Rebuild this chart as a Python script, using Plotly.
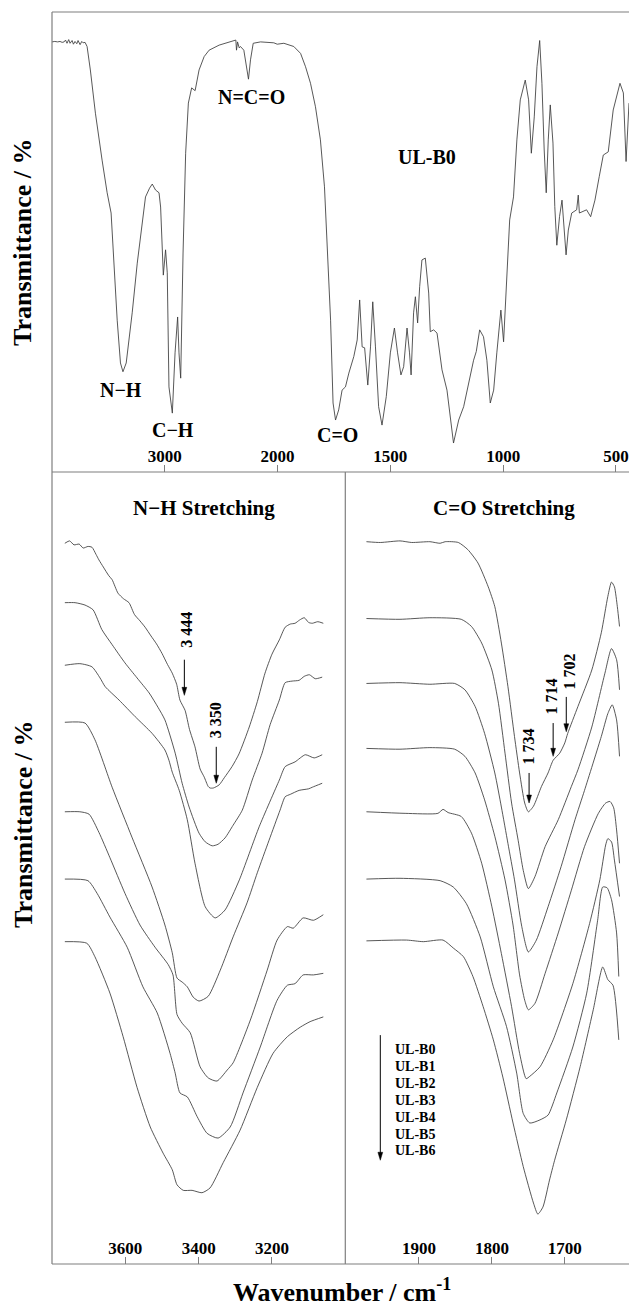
import plotly.graph_objects as go

# ---------------- UL-B0 survey spectrum, 4000-440 cm-1 ----------------
FULL_WN = [4000, 3975, 3950, 3929, 3910, 3893, 3880, 3867, 3852, 3840, 3822, 3810, 3796, 3780,
           3769, 3751, 3736, 3724, 3707, 3689, 3660, 3615, 3556, 3511, 3476, 3451, 3422, 3393,
           3371, 3342, 3289, 3244, 3206, 3171, 3135, 3111, 3082, 3051, 3037, 3022, 3013, 2993,
           2978, 2963, 2933, 2909, 2886, 2874, 2859, 2838, 2815, 2791, 2762, 2731, 2696, 2651,
           2607, 2518, 2400, 2370, 2364, 2355, 2340, 2329, 2299, 2275, 2258, 2240, 2216, 2151,
           2033, 2003, 1972, 1928, 1898, 1876, 1854, 1832, 1810, 1792, 1777, 1765, 1754, 1743,
           1729, 1714, 1699, 1684, 1662, 1647, 1636, 1625, 1614, 1600, 1588, 1578, 1566, 1552,
           1537, 1518, 1500, 1482, 1468, 1453, 1441, 1426, 1415, 1408, 1397, 1389, 1379, 1370,
           1360, 1345, 1330, 1323, 1308, 1293, 1271, 1249, 1220, 1197, 1175, 1153, 1131, 1119,
           1104, 1087, 1072, 1057, 1042, 1028, 1010, 998, 983, 971, 954, 939, 924, 902, 887, 875,
           862, 850, 838, 828, 818, 809, 800, 791, 779, 771, 762, 750, 739, 730, 721, 711, 696,
           674, 667, 662, 630, 612, 593, 574, 556, 534, 512, 482, 467, 455, 445, 442]
FULL_T = [93.5, 93.6, 93.5, 93.6, 93.4, 93.5, 93.9, 93.2, 94.0, 93.2, 93.8, 93.0, 93.6, 93.1,
          93.8, 92.9, 93.6, 93.3, 93.4, 92.5, 87.4, 78.0, 67.8, 60.7, 56.3, 44.6, 33.0, 23.7,
          21.8, 23.7, 34.6, 45.4, 53.3, 59.8, 61.7, 62.6, 61.3, 60.7, 57.6, 47.6, 42.8, 48.3,
          43.3, 18.5, 12.8, 25.9, 33.7, 25.9, 20.4, 47.6, 69.3, 80.2, 83.5, 82.9, 87.4, 90.3,
          91.7, 92.8, 93.6, 93.9, 91.7, 93.5, 92.2, 92.5, 91.7, 87.4, 85.4, 89.6, 93.2, 93.5,
          93.3, 93.0, 93.2, 92.5, 91.0, 88.1, 84.5, 79.4, 72.2, 62.0, 47.6, 33.0, 15.0, 11.3,
          13.5, 17.8, 18.5, 21.5, 25.1, 28.7, 37.4, 27.2, 27.0, 18.9, 27.2, 37.0, 27.2, 14.2,
          10.2, 16.4, 25.9, 31.3, 25.9, 21.1, 22.9, 31.3, 25.9, 21.1, 34.6, 38.1, 32.4, 40.3,
          46.1, 46.5, 38.9, 30.5, 30.9, 30.2, 22.2, 17.8, 6.3, 11.3, 14.2, 19.3, 24.3, 26.2,
          30.9, 29.4, 24.3, 15.0, 17.8, 25.9, 35.2, 28.3, 43.3, 54.8, 59.8, 72.2, 80.9, 85.2, 80.9, 69.3,
          77.2, 88.1, 93.8, 84.5, 70.0, 60.7, 72.2, 79.8, 71.5, 57.7, 49.3, 55.5, 59.1, 53.3, 47.2, 52.6, 56.3,
          57.0, 60.2, 56.3, 57.0, 55.5, 59.1, 64.2, 68.9, 69.6, 78.7, 84.5, 82.4, 67.5, 79.4, 80.2]

# ---------------- N-H stretching region (stacked, offset traces) ----------------
NH_B0_WN = [3765, 3752, 3740, 3726, 3715, 3702, 3691, 3680, 3672, 3660, 3645, 3636, 3620, 3605, 3590,
            3575, 3560, 3546, 3530, 3515, 3500, 3485, 3472, 3460, 3451, 3437, 3425, 3410, 3396, 3385,
            3374, 3369, 3360, 3344, 3330, 3309, 3290, 3262, 3240, 3219, 3200, 3180, 3164, 3150, 3137,
            3125, 3112, 3100, 3090, 3075, 3060]
NH_B0_T = [91.0, 91.3, 90.8, 90.9, 90.4, 90.6, 90.5, 89.6, 88.9, 88.0, 86.9, 86.4, 84.7, 84.0, 83.5,
           82.0, 81.2, 80.4, 79.3, 78.3, 77.1, 75.7, 74.6, 73.2, 71.2, 69.9, 67.5, 65.3, 62.5, 61.5,
           60.3, 60.1, 60.1, 60.5, 61.4, 62.8, 64.4, 67.8, 71.0, 74.6, 77.0, 78.8, 80.4, 80.8, 80.9,
           81.3, 81.6, 81.0, 80.9, 81.1, 80.9]
NH_B1_WN = [3765, 3737, 3710, 3688, 3664, 3636, 3601, 3568, 3535, 3511, 3492, 3464, 3445, 3426, 3399,
            3382, 3363, 3347, 3328, 3306, 3281, 3254, 3227, 3205, 3180, 3164, 3145, 3126, 3112, 3098,
            3082, 3063]
NH_B1_T = [83.5, 83.5, 83.2, 82.6, 80.1, 78.2, 75.9, 74.0, 72.1, 70.3, 68.7, 64.5, 60.7, 57.7, 54.4,
           53.3, 52.8, 53.0, 53.8, 55.4, 57.3, 61.1, 64.5, 68.1, 71.2, 73.4, 73.6, 73.7, 74.2, 74.4,
           73.9, 74.1]
NH_B2_WN = [3765, 3724, 3691, 3669, 3655, 3617, 3573, 3527, 3492, 3481, 3472, 3453, 3431, 3410, 3382,
            3355, 3328, 3289, 3235, 3180, 3164, 3137, 3109, 3085, 3063]
NH_B2_T = [75.6, 75.8, 75.4, 74.0, 72.9, 71.2, 69.1, 67.0, 64.9, 63.6, 62.1, 59.8, 56.1, 50.6, 45.1,
           43.7, 44.7, 48.5, 55.2, 61.1, 62.8, 63.4, 64.3, 63.9, 64.3]
NH_B3_WN = [3765, 3710, 3683, 3636, 3582, 3527, 3492, 3472, 3459, 3445, 3431, 3415, 3399, 3374, 3341,
            3306, 3268, 3240, 3208, 3178, 3164, 3150, 3126, 3100, 3090, 3063]
NH_B3_T = [68.4, 68.3, 66.2, 60.2, 53.9, 47.6, 42.8, 39.3, 36.1, 35.6, 35.0, 33.7, 33.2, 33.8, 37.1,
           41.3, 45.6, 49.4, 53.5, 57.3, 59.0, 59.3, 59.8, 60.0, 60.2, 60.7]
NH_B4_WN = [3765, 3724, 3699, 3672, 3642, 3601, 3560, 3519, 3483, 3470, 3459, 3445, 3423, 3396, 3374,
            3350, 3322, 3306, 3259, 3213, 3186, 3158, 3142, 3115, 3087, 3060]
NH_B4_T = [57.1, 57.1, 56.8, 54.5, 51.3, 46.8, 42.8, 40.0, 37.8, 36.5, 31.5, 30.4, 29.2, 24.9, 23.5,
           23.1, 24.5, 25.4, 30.8, 37.1, 40.9, 42.6, 42.4, 43.7, 43.4, 44.1]
NH_B5_WN = [3765, 3702, 3677, 3642, 3595, 3552, 3513, 3478, 3464, 3451, 3431, 3404, 3377, 3347, 3314,
            3279, 3232, 3186, 3158, 3137, 3115, 3087, 3060]
NH_B5_T = [48.6, 48.4, 46.8, 43.8, 40.0, 35.0, 31.7, 26.6, 24.1, 21.6, 21.1, 18.6, 16.5, 15.9, 17.3,
           21.6, 27.4, 33.3, 35.2, 35.4, 36.5, 36.5, 36.7]
NH_B6_WN = [3765, 3705, 3683, 3642, 3606, 3568, 3532, 3497, 3472, 3459, 3442, 3418, 3391, 3369, 3333,
            3287, 3240, 3197, 3158, 3123, 3096, 3060]
NH_B6_T = [40.7, 40.5, 38.8, 34.2, 28.7, 22.3, 17.3, 14.0, 11.9, 10.0, 9.3, 9.3, 9.0, 9.6, 12.8,
           16.9, 22.3, 26.6, 28.7, 29.9, 30.6, 31.2]

# ---------------- C=O stretching region (stacked, offset traces) ----------------
CO_B0_WN = [1972, 1953, 1926, 1910, 1885, 1871, 1864, 1846, 1833, 1819, 1805, 1796, 1787, 1778, 1769,
            1762, 1755, 1750, 1743, 1732, 1723, 1716, 1707, 1700, 1696, 1682, 1663, 1650, 1641, 1636,
            1632, 1628, 1625]
CO_B0_T = [91.2, 91.1, 91.3, 91.1, 91.2, 91.0, 91.2, 91.1, 90.2, 88.5, 85.5, 83.0, 78.4, 72.9, 66.6,
           62.0, 58.2, 57.1, 57.8, 60.3, 62.0, 63.6, 64.5, 65.8, 67.0, 70.4, 75.0, 79.7, 84.3, 86.1,
           85.5, 83.0, 80.5]
CO_B1_WN = [1972, 1926, 1885, 1842, 1828, 1814, 1800, 1791, 1782, 1773, 1764, 1757, 1750, 1741, 1727,
            1709, 1691, 1682, 1663, 1645, 1636, 1629, 1625]
CO_B1_T = [81.5, 81.4, 81.6, 81.4, 80.5, 78.4, 75.0, 70.8, 64.5, 58.2, 53.5, 49.7, 47.4, 48.9, 52.7,
           56.1, 60.3, 62.4, 67.8, 74.6, 77.7, 76.3, 72.5]
CO_B2_WN = [1972, 1926, 1885, 1851, 1837, 1823, 1810, 1796, 1787, 1778, 1769, 1759, 1750, 1739, 1723,
            1705, 1686, 1673, 1650, 1641, 1635, 1629, 1625]
CO_B2_T = [73.3, 73.4, 73.2, 73.3, 72.5, 70.4, 67.0, 62.0, 57.7, 53.1, 48.5, 42.6, 39.4, 40.9, 45.1,
           50.2, 56.1, 59.8, 66.6, 69.5, 70.6, 68.7, 64.1]
CO_B3_WN = [1972, 1926, 1885, 1851, 1837, 1823, 1810, 1796, 1782, 1771, 1762, 1755, 1750, 1741, 1727,
            1709, 1691, 1673, 1654, 1644, 1638, 1633, 1629, 1625]
CO_B3_T = [65.1, 65.0, 65.2, 65.0, 64.1, 62.0, 58.6, 54.0, 48.5, 42.8, 36.5, 33.3, 32.1, 32.9, 36.7,
           41.8, 47.2, 52.7, 56.9, 58.2, 58.4, 57.6, 54.8, 50.6]
CO_B4_WN = [1972, 1919, 1874, 1867, 1860, 1842, 1828, 1814, 1800, 1787, 1773, 1762, 1753, 1748, 1734,
            1716, 1689, 1666, 1652, 1644, 1641, 1636, 1632, 1625]
CO_B4_T = [57.1, 56.9, 56.9, 57.4, 57.0, 56.5, 54.4, 50.6, 45.1, 39.2, 32.5, 26.6, 23.4, 23.7, 24.9,
           28.3, 35.4, 43.0, 48.5, 52.9, 53.7, 53.3, 51.0, 46.4]
CO_B5_WN = [1972, 1926, 1871, 1853, 1835, 1816, 1798, 1780, 1766, 1757, 1748, 1734, 1723, 1711, 1689,
            1670, 1655, 1648, 1642, 1636, 1629, 1626]
CO_B5_T = [48.6, 48.7, 48.4, 47.6, 45.5, 41.3, 35.0, 30.0, 24.1, 19.0, 17.8, 18.2, 18.8, 21.6, 27.4,
           34.2, 43.4, 47.6, 47.5, 46.0, 41.8, 36.3]
CO_B6_WN = [1972, 1917, 1894, 1867, 1853, 1839, 1826, 1812, 1798, 1785, 1771, 1757, 1743, 1737, 1730,
            1721, 1714, 1698, 1679, 1661, 1648, 1641, 1634, 1626]
CO_B6_T = [40.8, 40.9, 40.7, 40.9, 39.9, 38.8, 36.3, 32.5, 28.3, 23.6, 17.8, 12.3, 7.7, 6.3, 7.2,
           10.6, 13.1, 18.2, 24.9, 32.1, 37.5, 35.9, 35.2, 28.3]

SAMPLES = ["UL-B0", "UL-B1", "UL-B2", "UL-B3", "UL-B4", "UL-B5", "UL-B6"]

# Axis ticks
TOP_TICKS = [3000, 2000, 1500, 1000, 500]
NH_TICKS = [3600, 3400, 3200]
CO_TICKS = [1900, 1800, 1700]

# Band labels on the survey spectrum: (text, wavenumber, transmittance)
TOP_LABELS = [("N=C=O", 2231, 81.5), ("N\u2212H", 3387, 17.8), ("C\u2212H", 2924, 9.1),
              ("C=O", 1736, 8.0), ("UL-B0", 1336, 68.5)]

# Peak markers: (label, text x, text y, arrow x, arrow tail y, arrow tip y)
NH_MARKS = [("3 444", 3434, 80.1, 3439, 76.3, 71.8),
            ("3 350", 3352, 68.7, 3352, 65.3, 60.7)]
CO_MARKS = [("1 734", 1750, 65.4, 1749, 62.0, 58.2),
            ("1 714", 1718, 71.6, 1716, 68.3, 64.1),
            ("1 702", 1693, 74.8, 1698, 71.6, 67.2)]


def fold(w):
    """4000-2000 cm-1 is drawn at half scale, below 2000 cm-1 at full scale."""
    return w if w <= 2000 else 2000 + (w - 2000) / 2


SERIF = "Times New Roman, Liberation Serif, serif"
LINE = dict(color="#3a3a3a", width=0.85)
FRAME = "#7f7f7f"
TOP_FLOOR = (1264 - 472) / 1252     # paper y where the survey panel ends
SPLIT = (345.3 - 52) / 577          # paper x of the divider between the two zooms
NH_RANGE = [3800, 3000]
CO_RANGE = [2001, 1612]
LOWER_PX = 1252 * TOP_FLOOR         # pixel height of the lower panels

fig = go.Figure()

fig.add_trace(go.Scatter(x=[fold(w) for w in FULL_WN], y=FULL_T, mode="lines", line=LINE,
                         xaxis="x", yaxis="y", hoverinfo="skip", name="UL-B0"))

nh_sets = [(NH_B0_WN, NH_B0_T), (NH_B1_WN, NH_B1_T), (NH_B2_WN, NH_B2_T), (NH_B3_WN, NH_B3_T),
           (NH_B4_WN, NH_B4_T), (NH_B5_WN, NH_B5_T), (NH_B6_WN, NH_B6_T)]
co_sets = [(CO_B0_WN, CO_B0_T), (CO_B1_WN, CO_B1_T), (CO_B2_WN, CO_B2_T), (CO_B3_WN, CO_B3_T),
           (CO_B4_WN, CO_B4_T), (CO_B5_WN, CO_B5_T), (CO_B6_WN, CO_B6_T)]
for name, (wn, t) in zip(SAMPLES, nh_sets):
    fig.add_trace(go.Scatter(x=wn, y=t, mode="lines", line=dict(LINE, shape="spline", smoothing=0.6),
                             xaxis="x2", yaxis="y2", hoverinfo="skip", name=name))
for name, (wn, t) in zip(SAMPLES, co_sets):
    fig.add_trace(go.Scatter(x=wn, y=t, mode="lines", line=dict(LINE, shape="spline", smoothing=0.6),
                             xaxis="x3", yaxis="y3", hoverinfo="skip", name=name))

tickfont = dict(family=SERIF, size=17, color="black", weight="bold")
xcommon = dict(showgrid=False, zeroline=False, showline=False, ticks="inside", ticklen=7,
               tickwidth=1, tickcolor=FRAME, ticklabelposition="inside", tickfont=tickfont)
ycommon = dict(showgrid=False, zeroline=False, showline=False, showticklabels=False,
               ticks="", range=[0, 100], fixedrange=True)

fig.update_layout(
    width=629, height=1308,
    margin=dict(l=52, r=0, t=12, b=44),
    paper_bgcolor="white", plot_bgcolor="white",
    showlegend=False,
    font=dict(family=SERIF, color="black"),
    xaxis=dict(xcommon, domain=[0, 1], anchor="y", range=[fold(4000), fold(442)],
               tickvals=[fold(v) for v in TOP_TICKS], ticktext=[str(v) for v in TOP_TICKS]),
    yaxis=dict(ycommon, domain=[TOP_FLOOR, 1], anchor="x"),
    xaxis2=dict(xcommon, domain=[0, SPLIT], anchor="y2", range=NH_RANGE,
                tickvals=NH_TICKS, ticktext=[str(v) for v in NH_TICKS]),
    yaxis2=dict(ycommon, domain=[0, TOP_FLOOR], anchor="x2"),
    xaxis3=dict(xcommon, domain=[SPLIT, 1], anchor="y3", range=CO_RANGE,
                tickvals=CO_TICKS, ticktext=[str(v) for v in CO_TICKS]),
    yaxis3=dict(ycommon, domain=[0, TOP_FLOOR], anchor="x3"),
)

# Panel frame
frame = [dict(x0=0, x1=0, y0=0, y1=1), dict(x0=0, x1=1, y0=1, y1=1),
         dict(x0=0, x1=1, y0=TOP_FLOOR, y1=TOP_FLOOR), dict(x0=0, x1=1, y0=0, y1=0),
         dict(x0=SPLIT, x1=SPLIT, y0=0, y1=TOP_FLOOR)]
for f in frame:
    fig.add_shape(type="line", xref="paper", yref="paper", line=dict(color=FRAME, width=1.2), **f)


def down_arrow(axis, x, tail, tip, wn_per_px):
    """Vertical arrow (shaft + filled narrow head) drawn in data units of one lower panel."""
    t_per_px = 100 / LOWER_PX
    head_len = 8 * t_per_px
    half_w = 2.4 * wn_per_px
    fig.add_shape(type="line", xref="x" + axis, yref="y" + axis, x0=x, x1=x, y0=tail,
                  y1=tip + head_len * 0.6, line=dict(color="black", width=1))
    fig.add_shape(type="path", xref="x" + axis, yref="y" + axis,
                  path=f"M {x - half_w},{tip + head_len} L {x + half_w},{tip + head_len} L {x},{tip} Z",
                  fillcolor="black", line=dict(color="black", width=0.5))


nh_wn_per_px = abs(NH_RANGE[0] - NH_RANGE[1]) / (577 * SPLIT)
co_wn_per_px = abs(CO_RANGE[0] - CO_RANGE[1]) / (577 * (1 - SPLIT))

ann = []
# Axis titles
for yc in (0.8163, 0.3514):
    ann.append(dict(text="<b>Transmittance / %</b>", xref="paper", yref="paper", x=-0.0503, y=yc,
                    textangle=-90, showarrow=False, font=dict(family=SERIF, size=26),
                    xanchor="center", yanchor="middle"))
ann.append(dict(text="<b>Wavenumber / cm<sup>-1</sup></b>", xref="paper", yref="paper",
                x=0.5026, y=-0.0208, showarrow=False, font=dict(family=SERIF, size=26),
                xanchor="center", yanchor="middle"))

# Survey band labels
for txt, w, t in TOP_LABELS:
    ann.append(dict(text=f"<b>{txt}</b>", xref="x", yref="y", x=fold(w), y=t, showarrow=False,
                    font=dict(family=SERIF, size=20)))

# Region titles
ann.append(dict(text="<b>N\u2212H Stretching</b>", xref="x2", yref="y2", x=3385, y=95.5,
                showarrow=False, font=dict(family=SERIF, size=21)))
ann.append(dict(text="<b>C=O Stretching</b>", xref="x3", yref="y3", x=1783, y=95.5,
                showarrow=False, font=dict(family=SERIF, size=21)))

# Peak arrows with rotated labels
for axis, marks, wpp in (("2", NH_MARKS, nh_wn_per_px), ("3", CO_MARKS, co_wn_per_px)):
    for label, tx, ty, axx, tail, tip in marks:
        ann.append(dict(text=f"<b>{label}</b>", xref="x" + axis, yref="y" + axis, x=tx, y=ty,
                        textangle=-90, showarrow=False, font=dict(family=SERIF, size=16)))
        down_arrow(axis, axx, tail, tip, wpp)

# Sample order key with downward arrow
KEY_X, KEY_TOP, KEY_TIP = 1953, 28.9, 13.1
down_arrow("3", KEY_X, KEY_TOP, KEY_TIP, co_wn_per_px)
key_y = [27.1, 24.9, 22.8, 20.6, 18.5, 16.4, 14.3]
for name, ky in zip(SAMPLES, key_y):
    ann.append(dict(text=f"<b>{name}</b>", xref="x3", yref="y3", x=1935, y=ky, xanchor="left",
                    showarrow=False, font=dict(family=SERIF, size=14)))

fig.update_layout(annotations=ann)
fig.write_html("out.html")
